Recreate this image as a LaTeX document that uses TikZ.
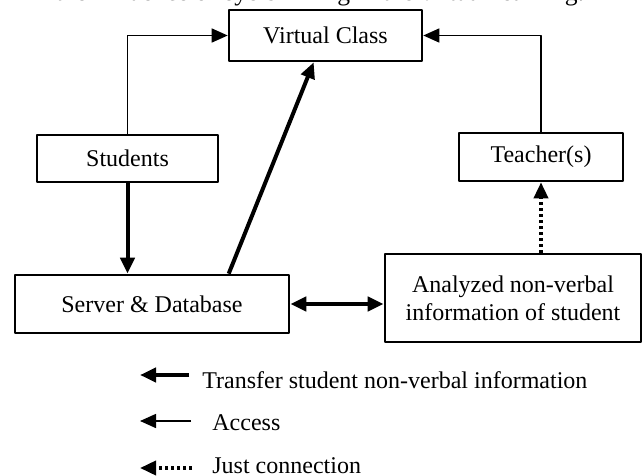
\documentclass[tikz,border=0pt]{standalone}
\usepackage{fontspec}
\setmainfont{Liberation Serif}
\usetikzlibrary{arrows.meta}
\begin{document}
\begin{tikzpicture}[x=0.5pt,y=-0.5pt,>={Triangle[length=8pt,width=7pt]},line join=bevel,
  box/.style={draw,line width=1.3pt,inner sep=0pt,align=center,font=\fontsize{12}{14}\selectfont},
  access/.style={line width=0.75pt,->},
  transfer/.style={line width=2pt,->},
  justconn/.style={line width=1.8pt,dash pattern=on 1.5pt off 1.5pt,->},
  lbl/.style={anchor=west,inner sep=0pt,font=\fontsize{12}{14}\selectfont}]

\useasboundingbox (0,0) rectangle (642,476);
\clip (0,0) rectangle (642,476);

 \node (node_title) at (320,1) [anchor=base,inner sep=0pt,font=\fontsize{12.8}{15}\selectfont] {the influence of eye blinking in the virtual learning.};

 \node (node_class) at (325.5,35.5) [box,minimum width=96.5pt,minimum height=25.5pt] {Virtual Class};
 \node (node_students) at (127.5,158.5) [box,minimum width=90.5pt,minimum height=23.5pt] {Students};
 \node (node_teacher) at (541,157) [box,minimum width=82pt,minimum height=24pt] {Teacher(s)};
 \node (node_server) at (152,304) [box,minimum width=137pt,minimum height=29pt] {Server \& Database};
 \node (node_analyzed) at (513,298) [box,minimum width=128pt,minimum height=44pt] {Analyzed non-verbal\\information of student};

  \draw [access] (node_students.north) |- (node_class.west);
  \draw [access] (node_teacher.north) |- (node_class.east);
  \draw [transfer] (node_students.south) -- (node_students.south |- node_server.north);
  \draw [transfer] ([xshift=107.5pt]node_server.north west) -- ([xshift=43pt]node_class.south west);
  \draw [transfer,<->] (node_server.east) -- (node_server.east -| node_analyzed.west);
  \draw [justconn] (node_analyzed.north -| node_teacher.south) -- (node_teacher.south);

 % legend
 \node (node_ltransfer) at (202,380) [lbl] {Transfer student non-verbal information};
 \node (node_laccess) at (212,423) [lbl] {Access};
 \node (node_ljust) at (212,466) [lbl] {Just connection};
 \coordinate (leg_t1) at (189,375);
 \coordinate (leg_t0) at (140,375);
 \coordinate (leg_a1) at (191,421);
 \coordinate (leg_a0) at (140,421);
 \coordinate (leg_j1) at (192,468);
 \coordinate (leg_j0) at (140,468);
  \draw [transfer] (leg_t1) -- (leg_t0);
  \draw [access] (leg_a1) -- (leg_a0);
  \draw [justconn] (leg_j1) -- (leg_j0);

\end{tikzpicture}
\end{document}
